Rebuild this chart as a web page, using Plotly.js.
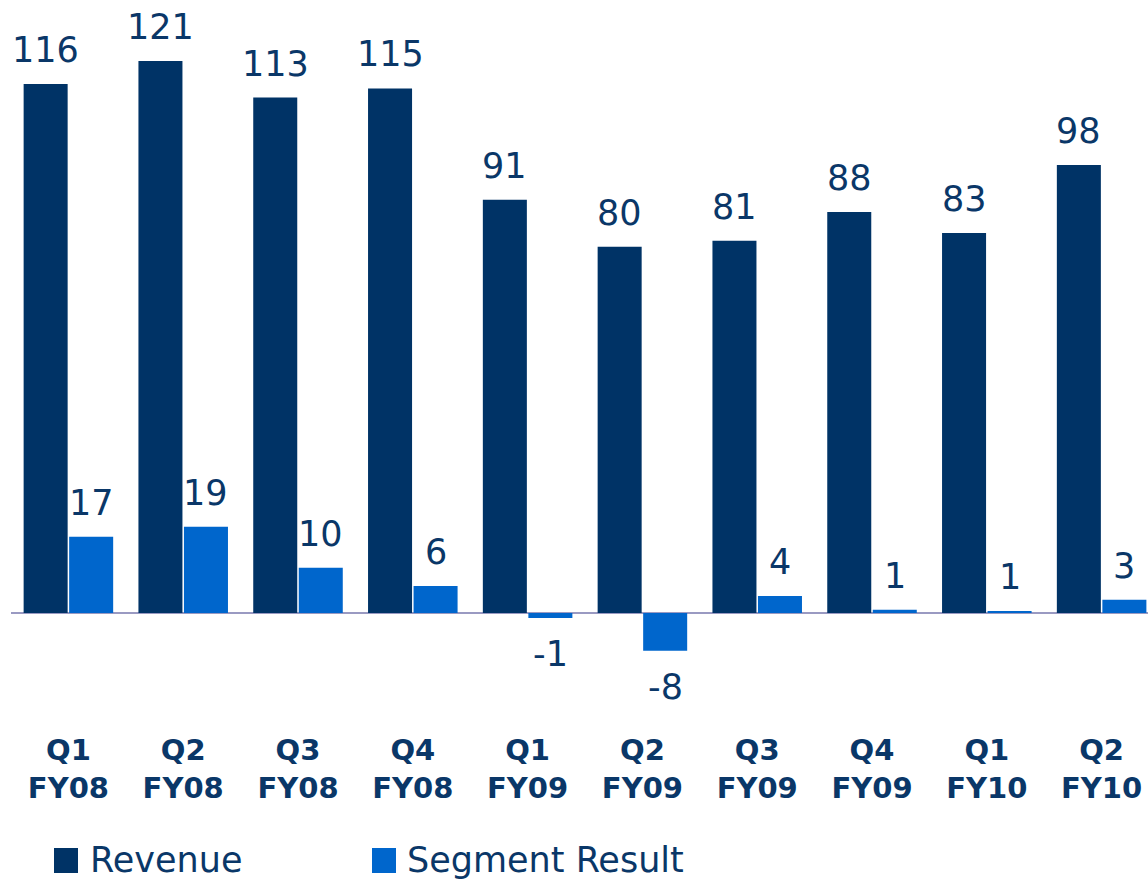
<!DOCTYPE html>
<html>
<head>
<meta charset="utf-8">
<script src="https://cdn.plot.ly/plotly-3.0.1.min.js"></script>
<style>html,body{margin:0;padding:0;background:#fff;}#chart{width:1148px;height:879px;}</style>
</head>
<body>
<div id="chart"></div>
<script>
const categories = ['Q1<br>FY08','Q2<br>FY08','Q3<br>FY08','Q4<br>FY08','Q1<br>FY09','Q2<br>FY09','Q3<br>FY09','Q4<br>FY09','Q1<br>FY10','Q2<br>FY10'];
const revenue = [116, 121, 113, 115, 90.6, 80.3, 81.6, 87.9, 83.3, 98.2];
const revenueLabels = ['116','121','113','115','91','80','81','88','83','98'];
const segment = [16.7, 18.9, 9.9, 5.9, -1.1, -8.3, 3.7, 0.7, 0.4, 2.9];
const segmentLabels = ['17','19','10','6','-1','-8','4','1','1','3'];
const seriesNames = ['Revenue', 'Segment Result'];
const colors = ['#003366', '#0066cc'];
const textColor = '#0a3768';

const traces = [
  {type:'bar', name:seriesNames[0], x:categories, y:revenue, marker:{color:colors[0]}, hoverinfo:'none'},
  {type:'bar', name:seriesNames[1], x:categories, y:segment, marker:{color:colors[1]}, hoverinfo:'none'}
];

const annotations = [];
const offs = 22.75;
[[revenue, revenueLabels, -offs], [segment, segmentLabels, offs]].forEach(([vals, labs, xs]) => {
  vals.forEach((v, i) => {
    const pos = v >= 0;
    annotations.push({
      x: categories[i], y: v, xref:'x', yref:'y', text: labs[i], showarrow:false,
      xshift: xs, yanchor: pos ? 'bottom' : 'top', yshift: pos ? 12 : -14,
      font:{family:'DejaVu Sans', size:35, color:textColor}
    });
  });
});

// legend drawn as text + swatches
const W = 1137, H = 700, L = 11;
const px = x => (x - L) / W, py = y => (H - y) / H;
const legendItems = [{sx:54, tx:88}, {sx:372, tx:405}];
const shapes = [];
legendItems.forEach((it, k) => {
  shapes.push({type:'rect', xref:'paper', yref:'paper', x0:px(it.sx), x1:px(it.sx+24), y0:py(848), y1:py(873), fillcolor:colors[k], line:{width:0}});
  annotations.push({xref:'paper', yref:'paper', x:px(it.tx), y:py(860), xanchor:'left', yanchor:'middle', showarrow:false,
    text: seriesNames[k], font:{family:'DejaVu Sans', size:35, color:textColor}});
});

const layout = {
  width:1148, height:879,
  margin:{l:11, r:0, t:0, b:179},
  paper_bgcolor:'#fff', plot_bgcolor:'#fff',
  barmode:'group', bargap:0.207, bargroupgap:0.033,
  showlegend:false,
  xaxis:{type:'category', range:[-0.5, 9.404], showgrid:false, zeroline:false, showline:false, ticks:'',
    tickfont:{family:'DejaVu Sans', size:29, color:textColor, weight:'bold'}, ticklabelstandoff:30},
  yaxis:{range:[-19.1, 134.4], showgrid:false, showticklabels:false, zeroline:true, zerolinecolor:'#9a9ac2', zerolinewidth:2, showline:false, ticks:''},
  annotations: annotations,
  shapes: shapes
};
Plotly.newPlot('chart', traces, layout, {displayModeBar:false, staticPlot:true});
</script>
</body>
</html>
